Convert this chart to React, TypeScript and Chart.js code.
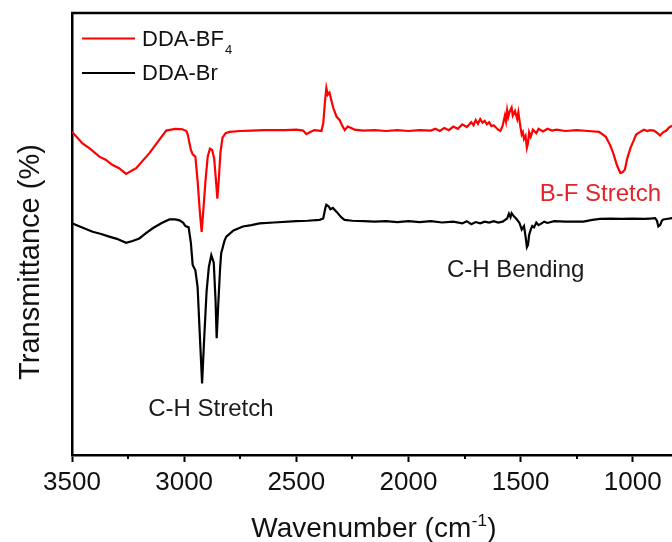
import React, { useEffect, useRef } from "react";
import { Chart, registerables } from "chart.js";

Chart.register(...registerables);

const FONT = "'Liberation Sans', Arial, sans-serif";

// x-axis tick values (wavenumber, cm^-1)
const majorTicks = [3500, 3000, 2500, 2000, 1500, 1000];
const minorTicks = [3250, 2750, 2250, 1750, 1250];
const xMax = 3500;
const xMin = 825;

// DDA-BF4 (red)
const bf4Wavenumber = [
  3500, 3480, 3453, 3420, 3378, 3350, 3319, 3290, 3259, 3214, 3155, 3080, 3040, 3008, 2990, 2984, 2970, 2962, 2950,
  2940, 2930, 2922, 2915, 2905, 2895, 2885, 2875, 2866, 2858, 2852, 2846, 2838, 2829, 2815, 2798, 2750, 2700, 2650,
  2600, 2550, 2500, 2470, 2455, 2440, 2420, 2400, 2388, 2380, 2372, 2366, 2360, 2352, 2345, 2335, 2320, 2307, 2295,
  2284, 2271, 2255, 2240, 2200, 2150, 2100, 2050, 2000, 1950, 1900, 1880, 1860, 1840, 1820, 1800, 1780, 1760, 1740,
  1720, 1710, 1700, 1690, 1680, 1670, 1660, 1650, 1640, 1630, 1620, 1600, 1590, 1580, 1570, 1565, 1560, 1555, 1550,
  1540, 1535, 1525, 1515, 1510, 1500, 1495, 1490, 1485, 1478, 1472, 1467, 1462, 1455, 1445, 1430, 1420, 1400, 1380,
  1360, 1340, 1300, 1250, 1200, 1150, 1120, 1100, 1087, 1070, 1055, 1045, 1035, 1025, 1010, 997, 985, 967, 950, 935,
  923, 905, 890, 878, 865, 850, 840, 825,
];
const bf4Values = [
  73.1, 72.0, 70.5, 69.3, 67.5, 66.8, 65.6, 64.9, 63.6, 64.9, 68.3, 73.4, 73.8, 73.7, 73.3, 72.5, 69.0, 68.0, 67.5,
  62.0, 55.0, 50.5, 55.0, 62.0, 67.5, 69.3, 69.0, 67.0, 62.0, 58.0, 62.0, 68.5, 71.8, 72.8, 73.1, 73.3, 73.4, 73.5,
  73.5, 73.5, 73.6, 73.4, 72.6, 73.0, 73.5, 73.4, 73.3, 75.0, 80.0, 83.0, 81.5, 82.0, 80.5, 78.5, 76.5, 75.8, 74.5,
  73.5, 74.3, 74.0, 73.6, 73.4, 73.5, 73.3, 73.5, 73.3, 73.5, 73.4, 73.8, 73.3, 74.0, 73.5, 74.3, 73.8, 74.8, 74.2,
  75.3, 74.6, 75.8, 74.9, 76.0, 75.2, 75.6, 74.8, 75.3, 74.4, 74.6, 73.6, 73.3, 74.5, 76.8, 75.5, 78.0, 76.5, 77.5,
  78.6, 76.8, 77.8, 76.0, 77.5, 74.0, 72.5, 73.0, 71.5, 72.2, 69.5, 70.5, 73.0, 72.0, 73.6, 72.8, 73.8, 73.2, 73.8,
  73.4, 73.6, 73.3, 73.5, 73.3, 73.1, 72.0, 70.0, 68.3, 65.5, 63.8, 64.0, 64.6, 67.0, 69.5, 71.0, 72.5, 73.1, 73.6,
  73.3, 73.5, 73.4, 72.8, 72.3, 73.0, 73.4, 74.0, 74.5,
];

// DDA-Br (black)
const brWavenumber = [
  3500, 3460, 3408, 3370, 3334, 3300, 3259, 3230, 3200, 3170, 3140, 3100, 3066, 3040, 3021, 3005, 2994, 2980, 2970,
  2962, 2950, 2940, 2930, 2920, 2912, 2900, 2890, 2879, 2868, 2860, 2855, 2848, 2840, 2835, 2820, 2812, 2780, 2738,
  2700, 2664, 2600, 2500, 2450, 2396, 2380, 2370, 2366, 2355, 2348, 2337, 2320, 2300, 2285, 2250, 2200, 2150, 2100,
  2050, 2000, 1950, 1900, 1850, 1800, 1760, 1740, 1720, 1700, 1680, 1660, 1640, 1620, 1600, 1580, 1560, 1552, 1545,
  1540, 1530, 1520, 1505, 1495, 1485, 1478, 1472, 1467, 1462, 1455, 1448, 1440, 1430, 1420, 1410, 1395, 1380, 1350,
  1300, 1250, 1220, 1180, 1146, 1100, 1050, 1000, 950, 923, 900, 892, 886, 878, 870, 864, 850, 825,
];
const brValues = [
  52.4, 51.6, 50.5, 50.0, 49.4, 48.9, 48.0, 48.4, 49.0, 50.2, 51.3, 52.5, 53.3, 53.3, 53.1, 52.6, 51.8, 51.5, 48.0,
  43.0, 41.8, 38.0, 27.0, 16.2, 25.0, 37.0, 42.5, 45.2, 43.5, 35.0, 26.4, 34.0, 42.0, 45.6, 48.5, 49.4, 50.8, 51.7,
  52.0, 52.4, 52.6, 52.9, 53.0, 53.2, 53.5, 56.0, 56.6, 56.2, 55.6, 55.9, 55.0, 53.8, 53.2, 53.0, 52.9, 52.8, 52.9,
  52.7, 52.9, 52.7, 52.9, 52.6, 52.8, 52.4, 52.9, 52.2, 52.7, 52.4, 52.8, 52.6, 52.9, 52.6, 52.8, 53.5, 54.6, 53.8,
  54.7, 54.0, 53.5, 52.5, 51.0, 51.8, 49.5, 47.0, 47.5, 49.8, 51.0, 51.8, 51.5, 52.6, 52.0, 52.3, 52.8, 52.5, 52.9,
  52.8, 52.8, 52.8, 53.2, 53.4, 53.5, 53.4, 53.5, 53.4, 53.5, 53.6, 53.0, 51.7, 52.0, 53.0, 53.3, 53.4, 53.6,
];

const seriesLabels = ["DDA-BF", "DDA-Br"];
const seriesColors = ["#ff0000", "#000000"];

// annotations
const annotationTexts = ["C-H Stretch", "C-H Bending", "B-F Stretch"];
const annotationX = [2881, 1522, 1144];
const annotationY = [10.3, 41.8, 59.0];
const annotationColors = ["#1a1a1a", "#1a1a1a", "#e3242b"];

const decorPlugin = {
  id: "decor",
  afterDraw(chart: any) {
    const ctx = chart.ctx;
    const { left, right, top, bottom } = chart.chartArea;
    const xs = chart.scales.x;
    const ys = chart.scales.y;
    ctx.save();
    // top frame
    ctx.strokeStyle = "#000";
    ctx.lineWidth = 2.5;
    ctx.beginPath();
    ctx.moveTo(left - 1, top);
    ctx.lineTo(right, top);
    ctx.stroke();
    // minor ticks
    ctx.lineWidth = 2;
    minorTicks.forEach((v) => {
      const px = Math.round(xs.getPixelForValue(v));
      ctx.beginPath();
      ctx.moveTo(px, bottom);
      ctx.lineTo(px, bottom + 4);
      ctx.stroke();
    });
    // annotations
    ctx.font = `24px ${FONT}`;
    ctx.textAlign = "center";
    ctx.textBaseline = "middle";
    annotationTexts.forEach((t, i) => {
      ctx.fillStyle = annotationColors[i];
      ctx.fillText(t, xs.getPixelForValue(annotationX[i]), ys.getPixelForValue(annotationY[i]));
    });
    // legend
    ctx.textAlign = "left";
    ctx.textBaseline = "middle";
    const legendY = [38.5, 73];
    seriesLabels.forEach((lab, i) => {
      ctx.strokeStyle = seriesColors[i];
      ctx.lineWidth = 2.2;
      ctx.beginPath();
      ctx.moveTo(82, legendY[i]);
      ctx.lineTo(135, legendY[i]);
      ctx.stroke();
      ctx.fillStyle = "#111";
      ctx.font = `22px ${FONT}`;
      ctx.fillText(lab, 142, legendY[i] + 1);
      if (i === 0) {
        const w = ctx.measureText(lab).width;
        ctx.font = `13px ${FONT}`;
        ctx.textBaseline = "alphabetic";
        ctx.fillText("4", 142 + w + 1, 53.5);
        ctx.textBaseline = "middle";
      }
    });
    // y title
    ctx.save();
    ctx.translate(38.5, 262);
    ctx.rotate(-Math.PI / 2);
    ctx.font = `29px ${FONT}`;
    ctx.textAlign = "center";
    ctx.textBaseline = "alphabetic";
    ctx.fillStyle = "#111";
    ctx.fillText("Transmittance (%)", 0, 0);
    ctx.restore();
    // x title with superscript
    ctx.font = `28px ${FONT}`;
    const p1 = "Wavenumber (cm";
    const p3 = ")";
    const w1 = ctx.measureText(p1).width;
    const w3 = ctx.measureText(p3).width;
    ctx.font = `17px ${FONT}`;
    const w2 = ctx.measureText("-1").width;
    const total = w1 + w2 + w3 + 1;
    const x0 = 374 - total / 2;
    const base = 537;
    ctx.textAlign = "left";
    ctx.textBaseline = "alphabetic";
    ctx.fillStyle = "#111";
    ctx.font = `28px ${FONT}`;
    ctx.fillText(p1, x0, base);
    ctx.font = `17px ${FONT}`;
    ctx.fillText("-1", x0 + w1 + 0.5, base - 11);
    ctx.font = `28px ${FONT}`;
    ctx.fillText(p3, x0 + w1 + w2 + 1, base);
    ctx.restore();
  },
};

export default function App() {
  const ref = useRef<HTMLCanvasElement | null>(null);
  useEffect(() => {
    if (!ref.current) return;
    const chart = new Chart(ref.current, {
      type: "line",
      data: {
        datasets: [
          {
            label: "DDA-BF4",
            data: bf4Wavenumber.map((x, i) => ({ x, y: bf4Values[i] })),
            borderColor: seriesColors[0],
            borderWidth: 2.2,
            pointRadius: 0,
            tension: 0,
          },
          {
            label: "DDA-Br",
            data: brWavenumber.map((x, i) => ({ x, y: brValues[i] })),
            borderColor: seriesColors[1],
            borderWidth: 2.2,
            pointRadius: 0,
            tension: 0,
          },
        ],
      },
      options: {
        responsive: false,
        animation: false,
        devicePixelRatio: 1,
        layout: { padding: { left: 0, top: 13, right: 0, bottom: 0 } },
        plugins: { legend: { display: false }, tooltip: { enabled: false } },
        scales: {
          x: {
            type: "linear",
            reverse: true,
            min: xMin,
            max: xMax,
            afterBuildTicks: (scale: any) => {
              scale.ticks = majorTicks.map((v) => ({ value: v }));
            },
            afterFit: (scale: any) => {
              scale.height = 87;
            },
            ticks: {
              autoSkip: false,
              maxRotation: 0,
              padding: 5,
              color: "#111",
              font: { family: FONT, size: 26 },
              callback: (v: any) => String(v),
            },
            grid: {
              display: true,
              drawOnChartArea: false,
              drawTicks: true,
              tickLength: 7,
              tickWidth: 2,
              tickColor: "#000",
            },
            border: { display: true, color: "#000", width: 2.5 },
          },
          y: {
            type: "linear",
            min: 0,
            max: 100,
            afterFit: (scale: any) => {
              scale.width = 72;
            },
            ticks: { display: false },
            grid: { display: false, drawTicks: false },
            border: { display: true, color: "#000", width: 2.5 },
          },
        },
      },
      plugins: [decorPlugin],
    } as any);
    return () => chart.destroy();
  }, []);
  return (
    <div style={{ position: "fixed", left: 0, top: 0, width: 672, height: 542, background: "#fff" }}>
      <canvas ref={ref} width={672} height={542} style={{ display: "block" }} />
    </div>
  );
}
